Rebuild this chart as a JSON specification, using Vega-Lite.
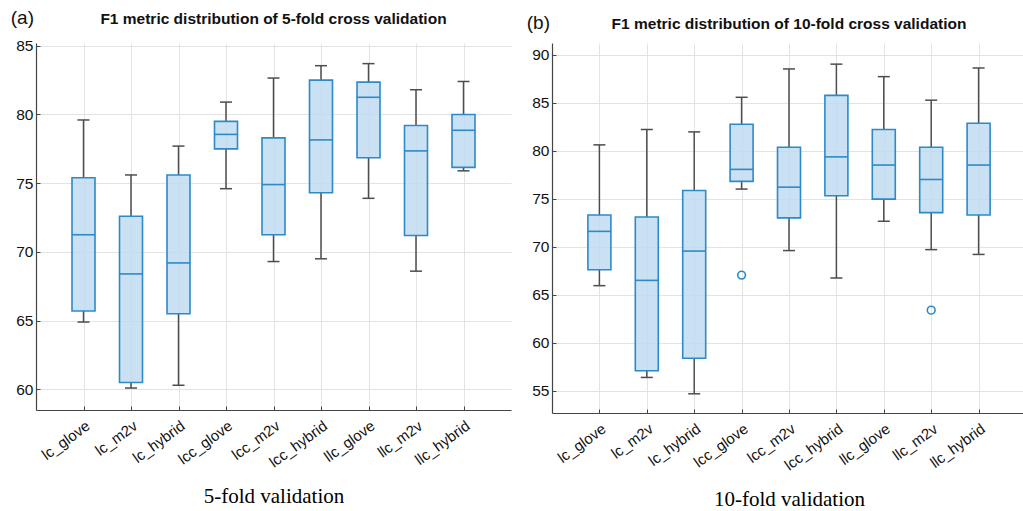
{
  "$schema": "https://vega.github.io/schema/vega-lite/v6.json",
  "padding": {"left": 10, "top": 9, "right": 0, "bottom": 0},
  "background": "white",
  "config": {
    "view": {"stroke": null},
    "font": "Liberation Sans",
    "axis": {
      "domainColor": "#444444",
      "domainWidth": 1.2,
      "tickColor": "#444444",
      "gridColor": "#e3e3e3",
      "gridWidth": 1,
      "labelColor": "#111111",
      "labelFont": "Liberation Sans"
    },
    "title": {"color": "#111111"}
  },
  "datasets": {
    "fold5": [
      {"cat": "lc_glove", "lo": 64.9, "q1": 65.7, "med": 71.25, "q3": 75.4, "hi": 79.6},
      {"cat": "lc_m2v", "lo": 60.1, "q1": 60.5, "med": 68.4, "q3": 72.6, "hi": 75.6},
      {"cat": "lc_hybrid", "lo": 60.3, "q1": 65.5, "med": 69.2, "q3": 75.6, "hi": 77.7},
      {"cat": "lcc_glove", "lo": 74.6, "q1": 77.5, "med": 78.55, "q3": 79.5, "hi": 80.9},
      {"cat": "lcc_m2v", "lo": 69.3, "q1": 71.25, "med": 74.9, "q3": 78.3, "hi": 82.65},
      {"cat": "lcc_hybrid", "lo": 69.5, "q1": 74.3, "med": 78.15, "q3": 82.5, "hi": 83.55},
      {"cat": "llc_glove", "lo": 73.9, "q1": 76.85, "med": 81.25, "q3": 82.35, "hi": 83.7},
      {"cat": "llc_m2v", "lo": 68.6, "q1": 71.2, "med": 77.35, "q3": 79.2, "hi": 81.8},
      {"cat": "llc_hybrid", "lo": 75.9, "q1": 76.15, "med": 78.85, "q3": 80.0, "hi": 82.4}
    ],
    "fold10": [
      {"cat": "lc_glove", "lo": 65.95, "q1": 67.6, "med": 71.6, "q3": 73.3, "hi": 80.6},
      {"cat": "lc_m2v", "lo": 56.4, "q1": 57.1, "med": 66.5, "q3": 73.1, "hi": 82.2},
      {"cat": "lc_hybrid", "lo": 54.7, "q1": 58.4, "med": 69.55, "q3": 75.85, "hi": 81.95},
      {"cat": "lcc_glove", "lo": 76.0, "q1": 76.8, "med": 78.05, "q3": 82.75, "hi": 85.55},
      {"cat": "lcc_m2v", "lo": 69.6, "q1": 73.0, "med": 76.2, "q3": 80.35, "hi": 88.5},
      {"cat": "lcc_hybrid", "lo": 66.75, "q1": 75.3, "med": 79.35, "q3": 85.75, "hi": 89.0},
      {"cat": "llc_glove", "lo": 72.65, "q1": 74.95, "med": 78.5, "q3": 82.2, "hi": 87.7},
      {"cat": "llc_m2v", "lo": 69.7, "q1": 73.55, "med": 77.0, "q3": 80.35, "hi": 85.25},
      {"cat": "llc_hybrid", "lo": 69.2, "q1": 73.3, "med": 78.5, "q3": 82.85, "hi": 88.6}
    ],
    "out10": [
      {"cat": "lcc_glove", "v": 67.05},
      {"cat": "llc_m2v", "v": 63.4}
    ]
  },
  "spacing": 15,
  "hconcat": [
    {
      "title": {"text": "(a)", "anchor": "start", "frame": "bounds", "fontSize": 19, "fontWeight": "normal", "dy": 20, "dx": -5},
      "vconcat": [
        {
          "title": {"text": "F1 metric distribution of 5-fold cross validation", "fontSize": 15.5, "fontWeight": "bold", "anchor": "middle", "offset": 11},
          "width": 475,
          "height": 367,
          "data": {"name": "fold5"},
          "encoding": {
            "x": {
              "field": "cat", "type": "nominal",
              "sort": ["lc_glove", "lc_m2v", "lc_hybrid", "lcc_glove", "lcc_m2v", "lcc_hybrid", "llc_glove", "llc_m2v", "llc_hybrid"],
              "scale": {"type": "point", "padding": 1.12},
              "axis": {"title": "5-fold validation", "titleFont": "Liberation Serif", "titleFontSize": 21, "titleFontWeight": "normal", "titlePadding": 16, "labelAngle": -36, "labelAlign": "right", "labelBaseline": "top", "labelFontSize": 15, "labelPadding": 12, "tickSize": -4, "grid": true}
            }
          },
          "layer": [
            {
              "mark": {"type": "rule", "color": "#4d4d4d", "strokeWidth": 1.5},
              "encoding": {
                "y": {"field": "lo", "type": "quantitative", "scale": {"domain": [58.5, 85.2], "nice": false, "zero": false}, "axis": {"title": null, "values": [60, 65, 70, 75, 80, 85], "labelFontSize": 15.5, "tickSize": -4, "labelPadding": 7, "grid": true}},
                "y2": {"field": "q1"}
              }
            },
            {
              "mark": {"type": "rule", "color": "#4d4d4d", "strokeWidth": 1.5},
              "encoding": {"y": {"field": "q3", "type": "quantitative"}, "y2": {"field": "hi"}}
            },
            {
              "mark": {"type": "tick", "color": "#4d4d4d", "size": 12, "thickness": 1.5, "opacity": 1},
              "encoding": {"y": {"field": "hi", "type": "quantitative"}}
            },
            {
              "mark": {"type": "tick", "color": "#4d4d4d", "size": 12, "thickness": 1.5, "opacity": 1},
              "encoding": {"y": {"field": "lo", "type": "quantitative"}}
            },
            {
              "mark": {"type": "bar", "size": 23, "fill": "#bcdaf0", "fillOpacity": 0.8, "stroke": "#2d8ac7", "strokeWidth": 1.6},
              "encoding": {"y": {"field": "q1", "type": "quantitative"}, "y2": {"field": "q3"}}
            },
            {
              "mark": {"type": "tick", "color": "#2d8ac7", "size": 23, "thickness": 1.6, "opacity": 1},
              "encoding": {"y": {"field": "med", "type": "quantitative"}}
            }
          ]
        }
      ]
    },
    {
      "title": {"text": "(b)", "anchor": "start", "frame": "bounds", "fontSize": 19, "fontWeight": "normal", "dy": 20, "dx": -5},
      "vconcat": [
        {
          "title": {"text": "F1 metric distribution of 10-fold cross validation", "fontSize": 15.5, "fontWeight": "bold", "anchor": "middle", "offset": 11},
          "width": 474,
          "height": 370,
          "data": {"name": "fold10"},
          "encoding": {
            "x": {
              "field": "cat", "type": "nominal",
              "sort": ["lc_glove", "lc_m2v", "lc_hybrid", "lcc_glove", "lcc_m2v", "lcc_hybrid", "llc_glove", "llc_m2v", "llc_hybrid"],
              "scale": {"type": "point", "padding": 1.12},
              "axis": {"title": "10-fold validation", "titleFont": "Liberation Serif", "titleFontSize": 21, "titleFontWeight": "normal", "titlePadding": 16, "labelAngle": -36, "labelAlign": "right", "labelBaseline": "top", "labelFontSize": 15, "labelPadding": 12, "tickSize": -4, "grid": true}
            }
          },
          "layer": [
            {
              "mark": {"type": "rule", "color": "#4d4d4d", "strokeWidth": 1.5},
              "encoding": {
                "y": {"field": "lo", "type": "quantitative", "scale": {"domain": [52.7, 91.2], "nice": false, "zero": false}, "axis": {"title": null, "values": [55, 60, 65, 70, 75, 80, 85, 90], "labelFontSize": 15.5, "tickSize": -4, "labelPadding": 7, "grid": true}},
                "y2": {"field": "q1"}
              }
            },
            {
              "mark": {"type": "rule", "color": "#4d4d4d", "strokeWidth": 1.5},
              "encoding": {"y": {"field": "q3", "type": "quantitative"}, "y2": {"field": "hi"}}
            },
            {
              "mark": {"type": "tick", "color": "#4d4d4d", "size": 12, "thickness": 1.5, "opacity": 1},
              "encoding": {"y": {"field": "hi", "type": "quantitative"}}
            },
            {
              "mark": {"type": "tick", "color": "#4d4d4d", "size": 12, "thickness": 1.5, "opacity": 1},
              "encoding": {"y": {"field": "lo", "type": "quantitative"}}
            },
            {
              "mark": {"type": "bar", "size": 23, "fill": "#bcdaf0", "fillOpacity": 0.8, "stroke": "#2d8ac7", "strokeWidth": 1.6},
              "encoding": {"y": {"field": "q1", "type": "quantitative"}, "y2": {"field": "q3"}}
            },
            {
              "mark": {"type": "tick", "color": "#2d8ac7", "size": 23, "thickness": 1.6, "opacity": 1},
              "encoding": {"y": {"field": "med", "type": "quantitative"}}
            },
            {
              "data": {"name": "out10"},
              "mark": {"type": "point", "shape": "circle", "filled": false, "color": "#2d8ac7", "strokeWidth": 1.6, "size": 60, "opacity": 1},
              "encoding": {"y": {"field": "v", "type": "quantitative"}}
            }
          ]
        }
      ]
    }
  ]
}
